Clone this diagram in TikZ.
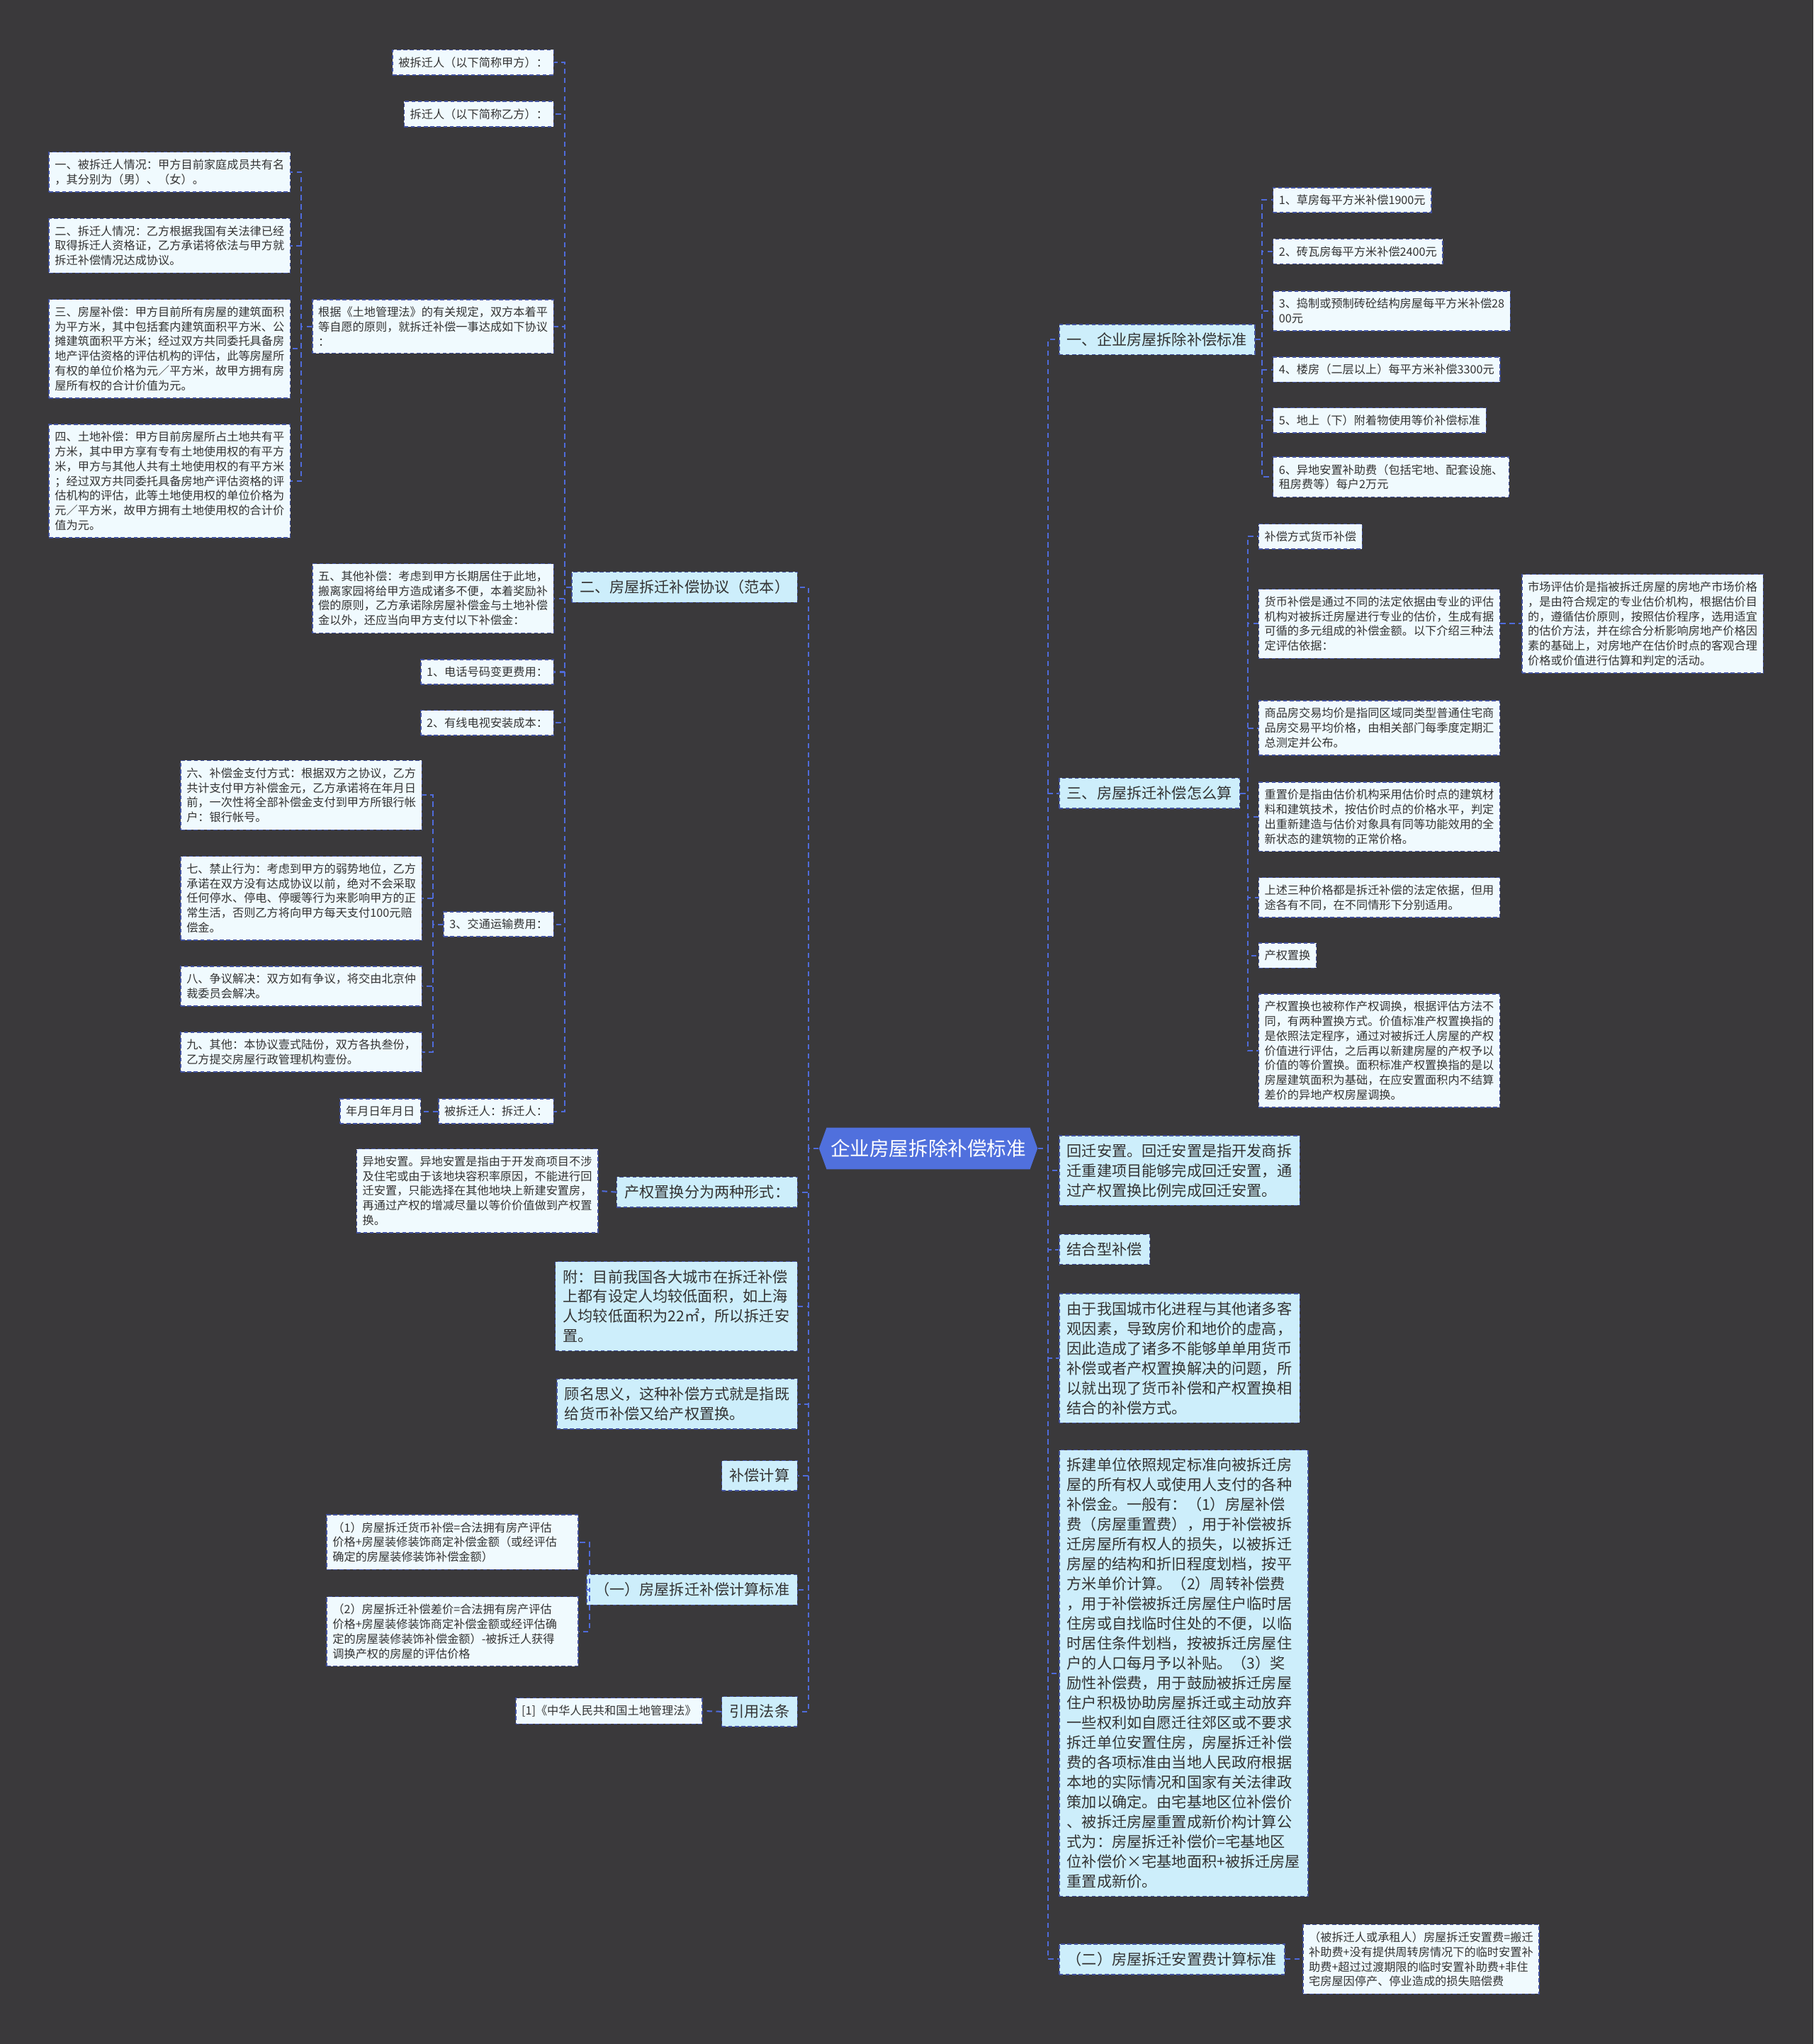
\documentclass[tikz,border=0pt]{standalone}
\usepackage{fontspec}
\setmainfont{Noto Sans CJK SC}
\usetikzlibrary{shapes.symbols}

\definecolor{bgdark}{HTML}{3A393B}
\definecolor{hubfill}{HTML}{CDEEFB}
\definecolor{leaffill}{HTML}{F0FAFE}
\definecolor{edgeblue}{HTML}{42529F}
\definecolor{linkblue}{HTML}{4F6BDB}
\definecolor{rootblue}{HTML}{5070DD}
\definecolor{inkgray}{HTML}{333333}

\newcommand{\hubfont}{\fontsize{11.5pt}{15.2pt}\selectfont}
\newcommand{\leaffont}{\fontsize{8.8pt}{11.3pt}\selectfont}

\tikzset{
  box/.style={draw=edgeblue, line width=0.8pt, dash pattern=on 3pt off 2pt, align=left, text=inkgray},
  hub/.style={box, fill=hubfill, font=\hubfont, inner xsep=6pt, inner ysep=6.2pt},
  leaf/.style={box, fill=leaffill, font=\leaffont, inner xsep=4.5pt, inner ysep=5.5pt},
  root/.style={signal, signal to=west and east, signal pointer angle=140, fill=rootblue,
    text=white, font=\fontsize{15pt}{18pt}\selectfont, inner xsep=3pt, inner ysep=9pt},
  link/.style={draw=linkblue, line width=1.1pt, dash pattern=on 4pt off 3pt},
}

\begin{document}
\begin{tikzpicture}[x=1pt,y=-1pt]
  \useasboundingbox (0,0) rectangle (1391,1568);
  \fill[bgdark] (0,0) rectangle (1391,1568);

  % Root
  \node[root] (root) at (712,881) {企业房屋拆除补偿标准};

  % Right side, level 1
  \node[hub,anchor=west] (r1)  at (812,260.5) {一、企业房屋拆除补偿标准};
  \node[hub,anchor=west] (r3)  at (812,608.5) {三、房屋拆迁补偿怎么算};
  \node[hub,anchor=west] (rhq) at (812,898) {回迁安置。回迁安置是指开发商拆\\迁重建项目能够完成回迁安置，通\\过产权置换比例完成回迁安置。};
  \node[hub,anchor=west] (rjh) at (812,958.5) {结合型补偿};
  \node[hub,anchor=west] (ryy) at (812,1042) {由于我国城市化进程与其他诸多客\\观因素，导致房价和地价的虚高，\\因此造成了诸多不能够单单用货币\\补偿或者产权置换解决的问题，所\\以就出现了货币补偿和产权置换相\\结合的补偿方式。};
  \node[hub,anchor=west] (rcj) at (812,1283.5) {拆建单位依照规定标准向被拆迁房\\屋的所有权人或使用人支付的各种\\补偿金。一般有：（1）房屋补偿\\费（房屋重置费），用于补偿被拆\\迁房屋所有权人的损失，以被拆迁\\房屋的结构和折旧程度划档，按平\\方米单价计算。（2）周转补偿费\\，用于补偿被拆迁房屋住户临时居\\住房或自找临时住处的不便，以临\\时居住条件划档，按被拆迁房屋住\\户的人口每月予以补贴。（3）奖\\励性补偿费，用于鼓励被拆迁房屋\\住户积极协助房屋拆迁或主动放弃\\一些权利如自愿迁往郊区或不要求\\拆迁单位安置住房，房屋拆迁补偿\\费的各项标准由当地人民政府根据\\本地的实际情况和国家有关法律政\\策加以确定。由宅基地区位补偿价\\、被拆迁房屋重置成新价构计算公\\式为：房屋拆迁补偿价=宅基地区\\位补偿价×宅基地面积+被拆迁房屋\\重置成新价。};
  \node[hub,anchor=west] (r2)  at (812,1503) {（二）房屋拆迁安置费计算标准};

  % Right side, level 2
  \node[leaf,anchor=west] (a1) at (976,153.5) {1、草房每平方米补偿1900元};
  \node[leaf,anchor=west] (a2) at (976,193) {2、砖瓦房每平方米补偿2400元};
  \node[leaf,anchor=west] (a3) at (976,238.5) {3、捣制或预制砖砼结构房屋每平方米补偿28\\00元};
  \node[leaf,anchor=west] (a4) at (976,283.5) {4、楼房（二层以上）每平方米补偿3300元};
  \node[leaf,anchor=west] (a5) at (976,322.5) {5、地上（下）附着物使用等价补偿标准};
  \node[leaf,anchor=west] (a6) at (976,366) {6、异地安置补助费（包括宅地、配套设施、\\租房费等）每户2万元};

  \node[leaf,anchor=west] (b1) at (965,411.5) {补偿方式货币补偿};
  \node[leaf,anchor=west] (b2) at (965,478.5) {货币补偿是通过不同的法定依据由专业的评估\\机构对被拆迁房屋进行专业的估价，生成有据\\可循的多元组成的补偿金额。以下介绍三种法\\定评估依据：};
  \node[leaf,anchor=west] (b2a) at (1167,478.5) {市场评估价是指被拆迁房屋的房地产市场价格\\，是由符合规定的专业估价机构，根据估价目\\的，遵循估价原则，按照估价程序，选用适宜\\的估价方法，并在综合分析影响房地产价格因\\素的基础上，对房地产在估价时点的客观合理\\价格或价值进行估算和判定的活动。};
  \node[leaf,anchor=west] (b3) at (965,558.5) {商品房交易均价是指同区域同类型普通住宅商\\品房交易平均价格，由相关部门每季度定期汇\\总测定并公布。};
  \node[leaf,anchor=west] (b4) at (965,626.5) {重置价是指由估价机构采用估价时点的建筑材\\料和建筑技术，按估价时点的价格水平，判定\\出重新建造与估价对象具有同等功能效用的全\\新状态的建筑物的正常价格。};
  \node[leaf,anchor=west] (b5) at (965,688.5) {上述三种价格都是拆迁补偿的法定依据，但用\\途各有不同，在不同情形下分别适用。};
  \node[leaf,anchor=west] (b6) at (965,733) {产权置换};
  \node[leaf,anchor=west] (b7) at (965,806) {产权置换也被称作产权调换，根据评估方法不\\同，有两种置换方式。价值标准产权置换指的\\是依照法定程序，通过对被拆迁人房屋的产权\\价值进行评估，之后再以新建房屋的产权予以\\价值的等价置换。面积标准产权置换指的是以\\房屋建筑面积为基础，在应安置面积内不结算\\差价的异地产权房屋调换。};

  \node[leaf,anchor=west] (c1) at (999,1503) {（被拆迁人或承租人）房屋拆迁安置费=搬迁\\补助费+没有提供周转房情况下的临时安置补\\助费+超过过渡期限的临时安置补助费+非住\\宅房屋因停产、停业造成的损失赔偿费};

  % Left side, level 1
  \node[hub,anchor=east] (l2)  at (612,450.5) {二、房屋拆迁补偿协议（范本）};
  \node[hub,anchor=east] (lcq) at (612,914.5) {产权置换分为两种形式：};
  \node[hub,anchor=east] (lfu) at (612,1002) {附：目前我国各大城市在拆迁补偿\\上都有设定人均较低面积，如上海\\人均较低面积为22㎡，所以拆迁安\\置。};
  \node[hub,anchor=east] (lgm) at (612,1077) {顾名思义，这种补偿方式就是指既\\给货币补偿又给产权置换。};
  \node[hub,anchor=east] (lbc) at (612,1132) {补偿计算};
  \node[hub,anchor=east] (l1)  at (612,1219.5) {（一）房屋拆迁补偿计算标准};
  \node[hub,anchor=east] (lyy) at (612,1313) {引用法条};

  % Left side, level 2
  \node[leaf,anchor=east] (d1) at (425,48) {被拆迁人（以下简称甲方）：};
  \node[leaf,anchor=east] (d2) at (425,87.5) {拆迁人（以下简称乙方）：};
  \node[leaf,anchor=east] (d3) at (425,250.5) {根据《土地管理法》的有关规定，双方本着平\\等自愿的原则，就拆迁补偿一事达成如下协议\\：};
  \node[leaf,anchor=east] (d4) at (425,459) {五、其他补偿：考虑到甲方长期居住于此地，\\搬离家园将给甲方造成诸多不便，本着奖励补\\偿的原则，乙方承诺除房屋补偿金与土地补偿\\金以外，还应当向甲方支付以下补偿金：};
  \node[leaf,anchor=east] (d5) at (425,515.5) {1、电话号码变更费用：};
  \node[leaf,anchor=east] (d6) at (425,554.5) {2、有线电视安装成本：};
  \node[leaf,anchor=east] (d7) at (425,709) {3、交通运输费用：};
  \node[leaf,anchor=east] (d8) at (425,852.5) {被拆迁人：拆迁人：};

  \node[leaf,anchor=east] (e1) at (223,132) {一、被拆迁人情况：甲方目前家庭成员共有名\\，其分别为（男）、（女）。};
  \node[leaf,anchor=east] (e2) at (223,188.5) {二、拆迁人情况：乙方根据我国有关法律已经\\取得拆迁人资格证，乙方承诺将依法与甲方就\\拆迁补偿情况达成协议。};
  \node[leaf,anchor=east] (e3) at (223,267.5) {三、房屋补偿：甲方目前所有房屋的建筑面积\\为平方米，其中包括套内建筑面积平方米、公\\摊建筑面积平方米；经过双方共同委托具备房\\地产评估资格的评估机构的评估，此等房屋所\\有权的单位价格为元／平方米，故甲方拥有房\\屋所有权的合计价值为元。};
  \node[leaf,anchor=east] (e4) at (223,369) {四、土地补偿：甲方目前房屋所占土地共有平\\方米，其中甲方享有专有土地使用权的有平方\\米，甲方与其他人共有土地使用权的有平方米\\；经过双方共同委托具备房地产评估资格的评\\估机构的评估，此等土地使用权的单位价格为\\元／平方米，故甲方拥有土地使用权的合计价\\值为元。};

  \node[leaf,anchor=east] (f1) at (324,610) {六、补偿金支付方式：根据双方之协议，乙方\\共计支付甲方补偿金元，乙方承诺将在年月日\\前，一次性将全部补偿金支付到甲方所银行帐\\户：银行帐号。};
  \node[leaf,anchor=east] (f2) at (324,689) {七、禁止行为：考虑到甲方的弱势地位，乙方\\承诺在双方没有达成协议以前，绝对不会采取\\任何停水、停电、停暖等行为来影响甲方的正\\常生活，否则乙方将向甲方每天支付100元赔\\偿金。};
  \node[leaf,anchor=east] (f3) at (324,756.5) {八、争议解决：双方如有争议，将交由北京仲\\裁委员会解决。};
  \node[leaf,anchor=east] (f4) at (324,807) {九、其他：本协议壹式陆份，双方各执叁份，\\乙方提交房屋行政管理机构壹份。};

  \node[leaf,anchor=east] (g1) at (323,852.5) {年月日年月日};

  \node[leaf,anchor=east] (h1) at (459,913.5) {异地安置。异地安置是指由于开发商项目不涉\\及住宅或由于该地块容积率原因，不能进行回\\迁安置，只能选择在其他地块上新建安置房，\\再通过产权的增减尽量以等价价值做到产权置\\换。};

  \node[leaf,anchor=east,text width=184pt] (k1) at (444,1183) {（1）房屋拆迁货币补偿=合法拥有房产评估\\价格+房屋装修装饰商定补偿金额（或经评估\\确定的房屋装修装饰补偿金额）};
  \node[leaf,anchor=east,text width=184pt] (k2) at (444,1251.5) {（2）房屋拆迁补偿差价=合法拥有房产评估\\价格+房屋装修装饰商定补偿金额或经评估确\\定的房屋装修装饰补偿金额）-被拆迁人获得\\调换产权的房屋的评估价格};

  \node[leaf,anchor=east] (m1) at (539,1312.5) {[1]《中华人民共和国土地管理法》};

  % Connectors, right
  \foreach \c in {r1,r3,rhq,rjh,ryy,rcj,r2}
    \draw[link] (root.east) -| ([xshift=-8pt]\c.west) -- (\c.west);
  \foreach \c in {a1,a2,a3,a4,a5,a6}
    \draw[link] (r1.east) -| ([xshift=-8pt]\c.west) -- (\c.west);
  \foreach \c in {b1,b2,b3,b4,b5,b6,b7}
    \draw[link] (r3.east) -| ([xshift=-8pt]\c.west) -- (\c.west);
  \draw[link] (b2.east) -- (b2a.west);
  \draw[link] (r2.east) -- (c1.west);

  % Connectors, left
  \foreach \c in {l2,lcq,lfu,lgm,lbc,l1,lyy}
    \draw[link] (root.west) -| ([xshift=8pt]\c.east) -- (\c.east);
  \foreach \c in {d1,d2,d3,d4,d5,d6,d7,d8}
    \draw[link] (l2.west) -| ([xshift=8pt]\c.east) -- (\c.east);
  \foreach \c in {e1,e2,e3,e4}
    \draw[link] (d3.west) -| ([xshift=8pt]\c.east) -- (\c.east);
  \foreach \c in {f1,f2,f3,f4}
    \draw[link] (d7.west) -| ([xshift=8pt]\c.east) -- (\c.east);
  \foreach \c in {k1,k2}
    \draw[link] (l1.west) -| ([xshift=8pt]\c.east) -- (\c.east);
  \draw[link] (d8.west) -- (g1.east);
  \draw[link] (lcq.west) -- (h1.east);
  \draw[link] (lyy.west) -- (m1.east);
\end{tikzpicture}
\end{document}
